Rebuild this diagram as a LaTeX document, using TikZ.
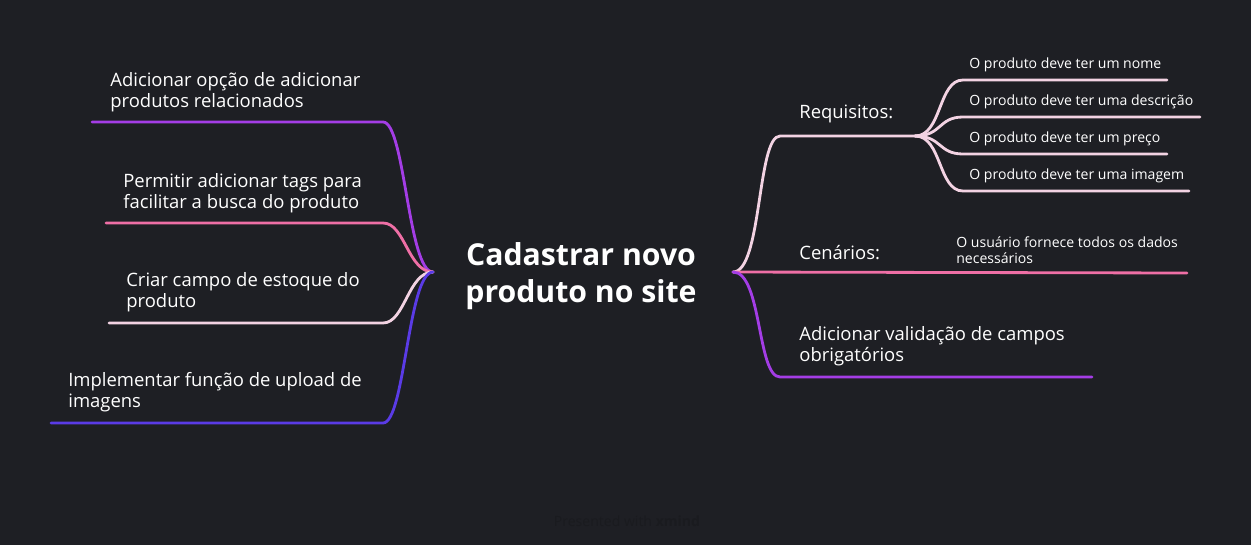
\documentclass[tikz,border=0pt]{standalone}
\usepackage{fontspec}
\setmainfont{Open Sans}
\definecolor{bgcol}{HTML}{1E1F24}
\definecolor{purpleline}{HTML}{A43DE6}
\definecolor{pinkline}{HTML}{EF6FA6}
\definecolor{paleline}{HTML}{F3D3E3}
\definecolor{violetline}{HTML}{5A3BE6}
\definecolor{markcol}{HTML}{1A1B1F}
\tikzset{
  branch/.style={line width=1.6pt, line cap=round},
  topictext/.style={text=white, inner sep=0pt, align=left, anchor=west,
    font=\fontsize{10.5}{12}\selectfont},
  subtext/.style={text=white, inner sep=0pt, align=left, anchor=west,
    font=\fontsize{8}{9}\selectfont},
}
\begin{document}
\begin{tikzpicture}[x=0.02cm, y=-0.02cm]
    % Background
    \fill[bgcol] (0,0) rectangle (1251,545);
    \useasboundingbox (0,0) rectangle (1251,545);
    % Central topic
    \node[text=white, align=center, inner sep=0pt, font=\fontsize{17.2}{21}\bfseries\selectfont]
        (root) at (581,276) {Cadastrar novo\\produto no site};
    \coordinate (cl) at (433,272);
    \coordinate (cr) at (733,272);
    % Left topics
    \node[topictext] (t1) at (110,92) {Adicionar opção de adicionar\\produtos relacionados};
    \node[topictext] (t2) at (123,193) {Permitir adicionar tags para\\facilitar a busca do produto};
    \node[topictext] (t3) at (126,292) {Criar campo de estoque do\\produto};
    \node[topictext] (t4) at (68,392) {Implementar função de upload de\\imagens};
    \coordinate (t1a) at (92,122);  \coordinate (t1b) at (383,122);
    \coordinate (t2a) at (106,223); \coordinate (t2b) at (383,223);
    \coordinate (t3a) at (109,323); \coordinate (t3b) at (383,323);
    \coordinate (t4a) at (51,423);  \coordinate (t4b) at (383,423);
    % Left connectors
    \draw[branch, purpleline] (cl) .. controls (408,272) and (405,122) .. (t1b) -- (t1a);
    \draw[branch, pinkline] (cl) .. controls (408,272) and (405,223) .. (t2b) -- (t2a);
    \draw[branch, paleline] (cl) .. controls (408,272) and (405,323) .. (t3b) -- (t3a);
    \draw[branch, violetline] (cl) .. controls (408,272) and (405,423) .. (t4b) -- (t4a);
    % Right topics
    \node[topictext] (req) at (799,114) {Requisitos:};
    \node[topictext] (cen) at (799,253) {Cenários:};
    \node[topictext] (val) at (799,346) {Adicionar validação de campos\\obrigatórios};
    \coordinate (reqa) at (780,136); \coordinate (reqb) at (915,136);
    \coordinate (cenb) at (1187,273);
    \coordinate (vala) at (780,377); \coordinate (valb) at (1092,377);
    % Right connectors
    \draw[branch, paleline] (cr) .. controls (762,272) and (757,136) .. (reqa) -- (reqb);
    \draw[branch, pinkline] (cr) -- (cenb);
    \draw[branch, purpleline] (cr) .. controls (762,272) and (757,377) .. (vala) -- (valb);
    % Requisitos subtopics
    \node[subtext] (s1) at (969,65) {O produto deve ter um nome};
    \node[subtext] (s2) at (969,102) {O produto deve ter uma descrição};
    \node[subtext] (s3) at (969,139) {O produto deve ter um preço};
    \node[subtext] (s4) at (969,176) {O produto deve ter uma imagem};
    \coordinate (s1a) at (963,80);  \coordinate (s1b) at (1167,80);
    \coordinate (s2a) at (963,117); \coordinate (s2b) at (1200,117);
    \coordinate (s3a) at (963,154); \coordinate (s3b) at (1167,154);
    \coordinate (s4a) at (963,191); \coordinate (s4b) at (1189,191);
    \foreach \s in {s1,s2,s3,s4}
        \draw[branch, paleline] (reqb) .. controls (942,136) and (938,0|-\s a) .. (\s a) -- (\s b);
    % Cenarios subtopic
    \node[subtext, font=\fontsize{8}{9.2}\selectfont] (c1) at (956,250)
        {O usuário fornece todos os dados\\necessários};
    % Watermark
    \node[text=markcol, font=\fontsize{8}{9}\selectfont] (mark) at (627,521)
        {Presented with \textbf{xmind}};
\end{tikzpicture}
\end{document}
